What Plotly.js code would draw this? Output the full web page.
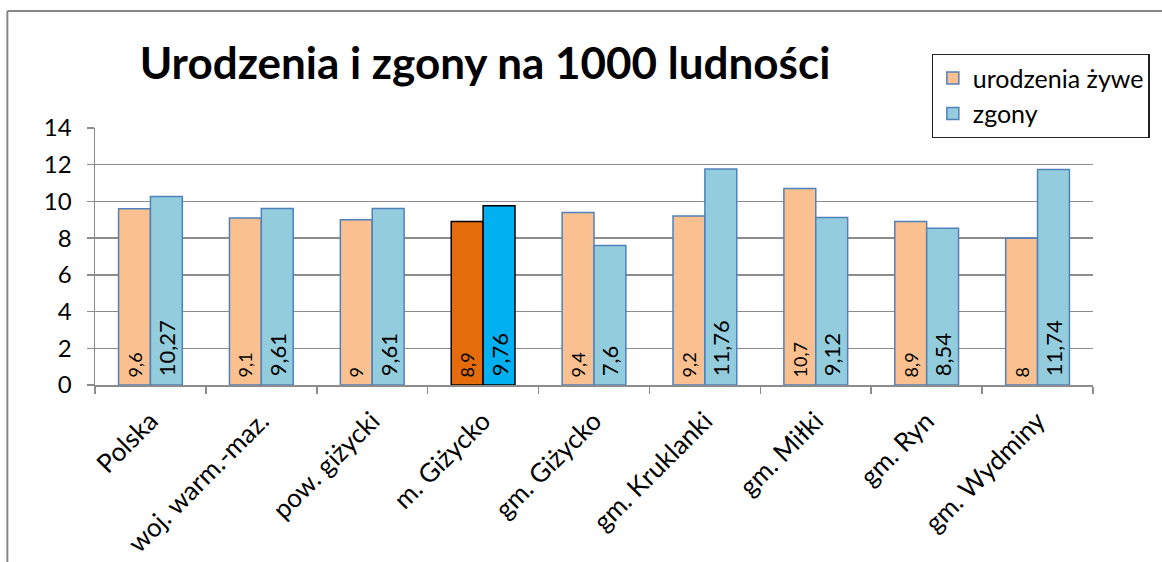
<!DOCTYPE html>
<html>
<head>
<meta charset="utf-8">
<script src="https://cdn.plot.ly/plotly-3.0.1.min.js"></script>
<style>html,body{margin:0;padding:0;background:#fff;}#chart{width:1162px;height:562px;}</style>
</head>
<body>
<div id="chart"></div>
<script>
const categories = ["Polska", "woj. warm.-maz.", "pow. giżycki", "m. Giżycko", "gm. Giżycko", "gm. Kruklanki", "gm. Miłki", "gm. Ryn", "gm. Wydminy"];
const urodzenia = [9.6, 9.1, 9, 8.9, 9.4, 9.2, 10.7, 8.9, 8];
const zgony = [10.27, 9.61, 9.61, 9.76, 7.6, 11.76, 9.12, 8.54, 11.74];
const highlightIndex = 3;

const fmt = v => ' ' + String(v).replace('.', ',');
const W = 1162, H = 562;
const L = 95, R = 1097, T = 128, B = 385;
const px = x => (x - L) / (R - L);
const py = y => (B - y) / (B - T);

function colors(base, hi) { return categories.map((c, i) => i === highlightIndex ? hi : base); }

const trace1 = {
  type: 'bar', name: 'urodzenia żywe', x: categories, y: urodzenia,
  text: urodzenia.map(fmt), textposition: 'inside', insidetextanchor: 'start', textangle: -90, constraintext: 'none',
  textfont: {family: 'Lato, sans-serif', size: 18, color: '#000'},
  marker: {color: colors('#FAC090', '#E46C0A'), line: {color: colors('#4F81BD', '#000000'), width: 1.5}},
  hoverinfo: 'x+y'
};
const trace2 = {
  type: 'bar', name: 'zgony', x: categories, y: zgony,
  text: zgony.map(fmt), textposition: 'inside', insidetextanchor: 'start', textangle: -90, constraintext: 'none',
  textfont: {family: 'Lato, sans-serif', size: 22, color: '#000'},
  marker: {color: colors('#93CDDD', '#00B0F0'), line: {color: colors('#4F81BD', '#000000'), width: 1.5}},
  hoverinfo: 'x+y'
};

const layout = {
  width: W, height: H,
  margin: {l: L, r: W - R, t: T, b: H - B},
  paper_bgcolor: '#fff', plot_bgcolor: '#fff',
  font: {family: 'Lato, sans-serif', color: '#000'},
  title: {text: 'Urodzenia i zgony na 1000 ludności', font: {family: 'Lato, sans-serif', size: 44, weight: 'bold', color: '#000'},
          x: 485 / W, xanchor: 'center', y: 1 - 64 / H, yanchor: 'middle'},
  barmode: 'group', bargap: 0.425, bargroupgap: 0,
  showlegend: true,
  legend: {x: px(935), y: py(54), xanchor: 'left', yanchor: 'top', bgcolor: '#fff', bordercolor: '#222', borderwidth: 1.2,
           font: {family: 'Lato, sans-serif', size: 25, color: '#000'}, itemwidth: 30},
  xaxis: {type: 'category', tickangle: -45, tickfont: {family: 'Lato, sans-serif', size: 26, color: '#000'},
          showline: true, linecolor: '#8C8C8C', linewidth: 1.5, ticks: 'outside', tickson: 'boundaries', ticklen: 7,
          tickcolor: '#8C8C8C', tickwidth: 1.5, ticklabelstandoff: 9, showgrid: false, zeroline: false, fixedrange: true},
  yaxis: {range: [0, 14], dtick: 2, tickfont: {family: 'Lato, sans-serif', size: 24, color: '#000'},
          showgrid: true, gridcolor: '#8C8C8C', gridwidth: 1.5, showline: true, linecolor: '#8C8C8C', linewidth: 1.5,
          ticks: 'outside', ticklen: 7, tickcolor: '#8C8C8C', tickwidth: 1.5, ticklabelstandoff: 10,
          zeroline: false, fixedrange: true},
  shapes: [
    {type: 'line', xref: 'paper', yref: 'paper', x0: px(7), x1: px(7), y0: py(600), y1: py(11), line: {color: '#868686', width: 2}},
    {type: 'line', xref: 'paper', yref: 'paper', x0: px(7), x1: px(1200), y0: py(11), y1: py(11), line: {color: '#868686', width: 2}}
  ]
};

Plotly.newPlot('chart', [trace1, trace2], layout, {displayModeBar: false, staticPlot: true});
</script>
</body>
</html>
